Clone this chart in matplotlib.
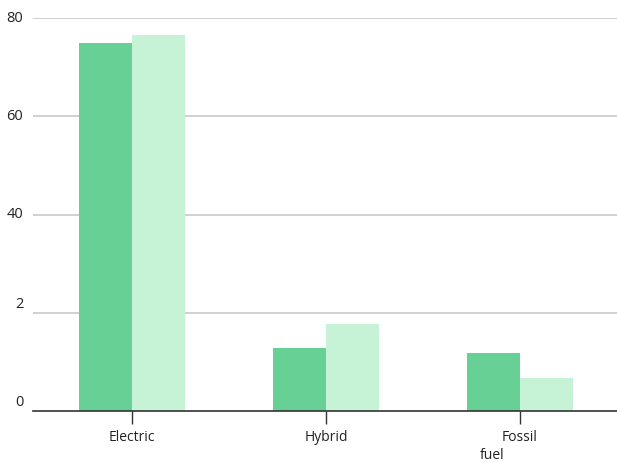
import matplotlib
matplotlib.use("Agg")
import matplotlib.pyplot as plt
import numpy as np

categories = ["Electric", "Hybrid", "Fossil"]
series_a = [75.0, 12.8, 11.8]
series_b = [76.5, 17.7, 6.7]
ytick_values = [0, 20, 40, 60, 80]
ytick_labels = ["0", "2", "40", "60", "80"]

plt.rcParams['font.family'] = ['Open Sans', 'DejaVu Sans']

fig = plt.figure(figsize=(6.17, 4.63), dpi=100)
ax = fig.add_axes([0.0535, 0.1123, 0.9465, 0.8487])

x = np.arange(len(categories))
w = 0.273
ax.bar(x - w / 2, series_a, width=w, color="#66d095", zorder=3)
ax.bar(x + w / 2, series_b, width=w, color="#c6f3d5", zorder=3)

ax.set_xlim(-0.51, 2.5)
ax.set_ylim(0, 80)

for v in ytick_values[1:]:
    ax.axhline(v, color="#c4c4c4", lw=1.1, zorder=1)

ax.set_yticks(ytick_values)
ax.set_yticklabels([])
for v, lab in zip(ytick_values, ytick_labels):
    dy = -6 if v <= 20 else 0
    ax.annotate(lab, xy=(0, v), xycoords=("axes fraction", "data"),
                xytext=(-7, -dy), textcoords="offset points",
                ha="right", va="center", fontsize=10.5, color="#222222")
ax.tick_params(axis="y", length=0)

ax.set_xticks(x)
ax.set_xticklabels(categories, fontsize=10, color="#222222")
ax.tick_params(axis="x", length=9.5, width=1, color="#333333", pad=4)
ax.annotate("fuel", xy=(x[2], 0), xycoords="data", xytext=(-20, -32),
            textcoords="offset points", ha="center", va="center",
            fontsize=10, color="#222222")

for s in ["top", "right", "left"]:
    ax.spines[s].set_visible(False)
ax.spines["bottom"].set_color("#333333")
ax.spines["bottom"].set_linewidth(1.2)
ax.spines["bottom"].set_zorder(4)

fig.savefig("out.png", dpi=100)
